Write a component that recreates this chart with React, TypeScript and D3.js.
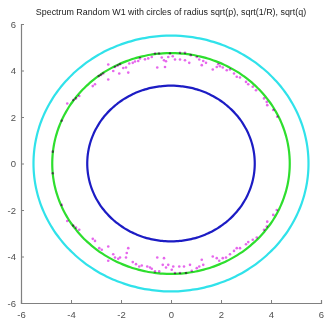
import { useEffect, useRef } from "react";
import * as d3 from "d3";

const title = "Spectrum Random W1 with circles of radius sqrt(p), sqrt(1/R), sqrt(q)";
const xTicks = [-6, -4, -2, 0, 2, 4, 6];
const yTicks = [-6, -4, -2, 0, 2, 4, 6];

// radii
const radii = [
  { name: "sqrt(q)", r: 5.5, color: "#30e2ea" },
  { name: "sqrt(1/R)", r: 4.75, color: "#2ede2e" },
  { name: "sqrt(p)", r: 3.35, color: "#1c1cc4" },
];

// eigenvalues, upper half plane
const upper: [number, number][] = [
  [-4.73, 0.51], [-4.37, 1.84], [-4.15, 2.58], [-3.91, 2.73], [-3.8, 2.8], [-3.67, 2.9],
  [-3.13, 3.33], [-3.04, 3.41], [-2.89, 3.76], [-2.8, 3.81], [-2.71, 3.87], [-2.51, 3.61],
  [-2.51, 4.26], [-2.31, 3.98], [-2.24, 4.15], [-2.13, 4.21], [-2.04, 4.27], [-2.07, 3.87],
  [-1.91, 4.11], [-1.8, 4.13], [-1.71, 3.91], [-1.67, 4.3], [-1.53, 4.33], [-1.44, 4.39],
  [-1.31, 4.41], [-1.24, 4.52], [-1.04, 4.48], [-0.91, 4.52], [-0.77, 4.58], [-0.64, 4.73],
  [-0.55, 4.13], [-0.48, 4.73], [-0.37, 4.56], [-0.28, 4.44], [-0.24, 4.15], [-0.2, 4.4],
  [-0.11, 4.58], [-0.04, 4.73], [0.07, 4.61], [0.16, 4.47], [0.36, 4.47], [0.36, 4.76],
  [0.56, 4.44], [0.56, 4.76], [0.73, 4.33], [0.79, 4.66], [1.03, 4.58], [1.13, 4.47],
  [1.23, 4.23], [1.29, 4.41], [1.4, 4.33], [1.67, 4.04], [1.83, 4.15], [1.89, 4.27],
  [1.96, 4.18], [2.07, 4.13], [2.23, 4.01], [2.36, 4.04], [2.52, 3.87], [2.63, 3.73],
  [2.76, 3.7], [3.0, 3.51], [3.09, 3.41], [3.27, 3.3], [3.4, 3.15], [3.72, 2.8],
  [3.83, 2.65], [3.85, 2.51], [4.09, 2.3], [4.25, 2.01],
];

// eigenvalues, lower half plane
const lower: [number, number][] = [
  [-4.73, -0.42], [-4.37, -1.78], [-4.15, -2.47], [-3.91, -2.67], [-3.8, -2.76], [-3.67, -2.85],
  [-3.13, -3.24], [-3.04, -3.33], [-2.87, -3.64], [-2.77, -3.71], [-2.51, -3.57], [-2.51, -4.18],
  [-2.31, -3.9], [-2.24, -4.04], [-2.11, -4.1], [-2.04, -4.04], [-1.8, -4.04], [-1.77, -3.85],
  [-1.71, -3.64], [-1.53, -4.24], [-1.4, -4.33], [-1.27, -4.43], [-1.17, -4.39], [-0.95, -4.43],
  [-0.84, -4.47], [-0.77, -4.53], [-0.64, -4.64], [-0.55, -4.04], [-0.47, -4.64], [-0.33, -4.36],
  [-0.28, -4.07], [-0.2, -4.47], [-0.11, -4.36], [0.03, -4.57], [0.09, -4.43], [0.16, -4.71],
  [0.33, -4.43], [0.36, -4.71], [0.52, -4.43], [0.6, -4.71], [0.76, -4.36], [0.83, -4.61],
  [1.03, -4.5], [1.13, -4.43], [1.23, -4.14], [1.29, -4.36], [1.67, -4.0], [1.83, -4.07],
  [1.93, -4.18], [2.07, -4.07], [2.2, -4.04], [2.36, -3.9], [2.52, -3.76], [2.63, -3.64],
  [2.76, -3.64], [3.0, -3.47], [3.09, -3.38], [3.27, -3.28], [3.43, -3.18], [3.72, -2.85],
  [3.83, -2.71], [3.85, -2.5], [4.09, -2.21], [4.23, -2.0],
];

const W = 326;
const H = 320;

export default function App() {
  const svgRef = useRef<SVGSVGElement>(null);

  useEffect(() => {
    const svg = d3.select(svgRef.current);
    svg.selectAll("*").remove();

    const margin = { top: 24, right: 5, bottom: 17, left: 21 };
    const x = d3.scaleLinear().domain([-6, 6]).range([margin.left, W - margin.right]);
    const y = d3.scaleLinear().domain([-6, 6]).range([H - margin.bottom, margin.top]);

    svg.append("rect").attr("width", W).attr("height", H).attr("fill", "#fff");

    // circles in data coords (axes aren't equal so they come out slightly oval)
    const angles = d3.range(0, 360, 2).map((d) => (d * Math.PI) / 180);
    radii.forEach((c) => {
      const circ = d3
        .line<number>()
        .x((a) => x(c.r * Math.cos(a)))
        .y((a) => y(c.r * Math.sin(a)))
        .curve(d3.curveCardinalClosed);
      svg
        .append("path")
        .attr("d", circ(angles))
        .attr("fill", "none")
        .attr("stroke", c.color)
        .attr("stroke-width", 2.2);
    });

    // eigenvalues
    svg
      .append("g")
      .style("mix-blend-mode", "multiply")
      .attr("opacity", 0.8)
      .selectAll("circle")
      .data([...upper, ...lower])
      .join("circle")
      .attr("cx", (d) => x(d[0]))
      .attr("cy", (d) => y(d[1]))
      .attr("r", 1.3)
      .attr("fill", "#e040e8");

    // axes, MATLAB style: inward ticks, left + bottom only
    const fmt = (d: d3.NumberValue) => String(d);
    const gx = svg
      .append("g")
      .attr("transform", `translate(0,${H - margin.bottom})`)
      .call(d3.axisBottom(x).tickValues(xTicks).tickSize(-3).tickPadding(6).tickFormat(fmt));
    const gy = svg
      .append("g")
      .attr("transform", `translate(${margin.left},0)`)
      .call(d3.axisLeft(y).tickValues(yTicks).tickSize(-3).tickPadding(5).tickFormat(fmt));
    [gx, gy].forEach((g) => {
      g.select(".domain").attr("stroke", "#808080").attr("stroke-width", 1.2);
      g.selectAll(".tick line").attr("stroke", "#808080");
      g.selectAll("text")
        .attr("fill", "#505050")
        .attr("font-family", "Liberation Sans, Arial, sans-serif")
        .attr("font-size", 9.5);
    });
    gx.selectAll("text").attr("dy", "0.9em");

    svg
      .append("text")
      .attr("x", 171)
      .attr("y", 15)
      .attr("text-anchor", "middle")
      .attr("font-family", "Liberation Sans, Arial, sans-serif")
      .attr("font-size", 8.9)
      .attr("fill", "#222")
      .text(title);
  }, []);

  return (
    <svg
      ref={svgRef}
      width={W}
      height={H}
      style={{ position: "absolute", left: 0, top: 0, display: "block" }}
    />
  );
}
